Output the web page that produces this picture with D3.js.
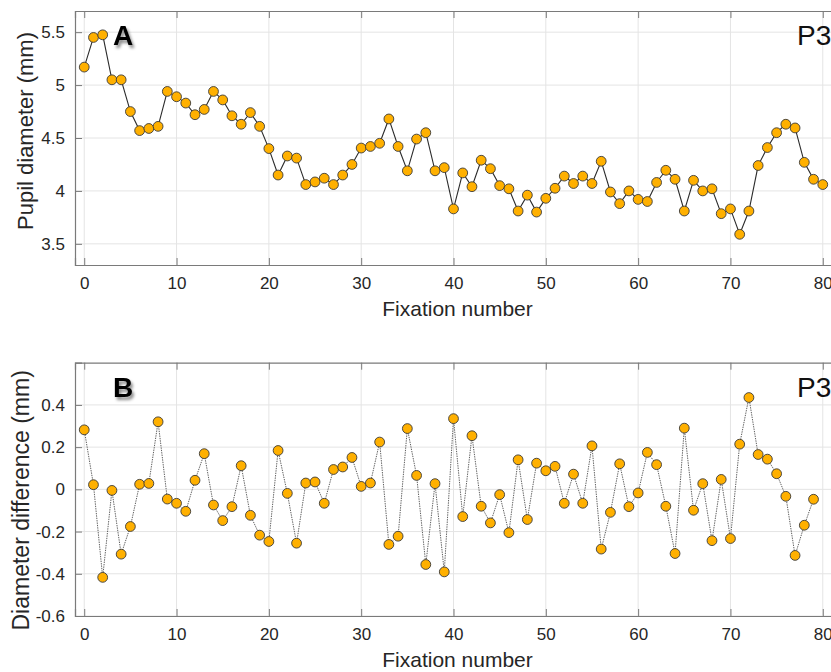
<!DOCTYPE html>
<html>
<head>
<meta charset="utf-8">
<script src="https://cdn.jsdelivr.net/npm/d3@7"></script>
<style>
  body { margin: 0; background: #fff; }
  svg { display: block; font-family: "Liberation Sans", Arial, Helvetica, sans-serif; }
</style>
</head>
<body>
<script>
// fixation numbers shared by both panels
const xTicks = [0, 10, 20, 30, 40, 50, 60, 70, 80];

// panel A: pupil diameter per fixation (mm)
const pupilDiameter = [
  5.17, 5.45, 5.475, 5.05, 5.05, 4.75, 4.57, 4.59, 4.61, 4.94,
  4.89, 4.83, 4.72, 4.77, 4.94, 4.86, 4.71, 4.63, 4.74, 4.61,
  4.40, 4.15, 4.33, 4.31, 4.06, 4.085, 4.12, 4.06, 4.15, 4.25,
  4.405, 4.42, 4.45, 4.68, 4.42, 4.19, 4.49, 4.55, 4.19, 4.22,
  3.83, 4.17, 4.04, 4.29, 4.21, 4.05, 4.02, 3.81, 3.96, 3.80,
  3.93, 4.025, 4.14, 4.07, 4.14, 4.07, 4.28, 3.99, 3.88, 4.00,
  3.92, 3.90, 4.08, 4.195, 4.11, 3.81, 4.10, 4.00, 4.02, 3.785,
  3.83, 3.59, 3.81, 4.24, 4.41, 4.55, 4.63, 4.595, 4.27, 4.11, 4.06
];
const pupilTicks = [3.5, 4, 4.5, 5, 5.5];

// panel B: difference between successive fixations (mm)
const diameterDiff = [
  0.282, 0.022, -0.417, -0.005, -0.307, -0.176, 0.024, 0.028, 0.320, -0.046,
  -0.066, -0.104, 0.043, 0.169, -0.074, -0.148, -0.082, 0.112, -0.123, -0.217,
  -0.247, 0.184, -0.019, -0.255, 0.030, 0.035, -0.066, 0.094, 0.106, 0.151,
  0.014, 0.030, 0.224, -0.261, -0.222, 0.288, 0.066, -0.356, 0.027, -0.391,
  0.335, -0.129, 0.254, -0.080, -0.159, -0.025, -0.205, 0.140, -0.143, 0.124,
  0.088, 0.109, -0.066, 0.072, -0.066, 0.206, -0.283, -0.109, 0.121, -0.082,
  -0.017, 0.175, 0.117, -0.080, -0.304, 0.290, -0.099, 0.027, -0.243, 0.047,
  -0.233, 0.214, 0.435, 0.165, 0.143, 0.074, -0.033, -0.313, -0.170, -0.047
];
const diffTicks = [-0.6, -0.4, -0.2, 0, 0.2, 0.4];

const width = 831, height = 672;
const left = 75, right = 832;

const svg = d3.select("body").append("svg")
    .attr("width", width)
    .attr("height", height);

// soft shadow behind the panel letters
svg.append("defs").append("filter")
    .attr("id", "shadow")
    .attr("x", "-50%").attr("y", "-50%")
    .attr("width", "200%").attr("height", "200%")
  .append("feDropShadow")
    .attr("dx", 2).attr("dy", 3)
    .attr("stdDeviation", 1.6)
    .attr("flood-color", "#000")
    .attr("flood-opacity", 0.45);

const x = d3.scaleLinear().domain([-1, 81]).range([left, right]);

// matlab writes a plain hyphen for negatives
const fmt = d => String(d);

function drawPanel(opts) {
    const y = d3.scaleLinear().domain(opts.yDomain).range([opts.bottom, opts.top]);
    const g = svg.append("g");

    // grid
    g.append("g")
        .attr("stroke", "#e4e4e4")
        .attr("stroke-width", 1)
        .call(s => s.selectAll(".gx").data(xTicks).join("line")
            .attr("x1", d => x(d)).attr("x2", d => x(d))
            .attr("y1", opts.top).attr("y2", opts.bottom))
        .call(s => s.selectAll(".gy").data(opts.yTicks).join("line")
            .attr("x1", left).attr("x2", right)
            .attr("y1", d => y(d)).attr("y2", d => y(d)));

    // axes: ticks point inward
    const axBottom = d3.axisBottom(x).tickValues(xTicks).tickSize(-7).tickPadding(12).tickFormat(fmt);
    const axTop = d3.axisTop(x).tickValues(xTicks).tickSize(-7).tickFormat("");
    const axLeft = d3.axisLeft(y).tickValues(opts.yTicks).tickSize(-7).tickPadding(10).tickFormat(fmt);

    const styleAxis = sel => {
        sel.select(".domain").attr("stroke", "#7a7a7a").attr("stroke-width", 1.2);
        sel.selectAll(".tick line").attr("stroke", "#7a7a7a").attr("stroke-width", 1);
        sel.selectAll(".tick text")
            .attr("fill", "#262626")
            .style("font-size", "17px")
            .style("font-family", "Liberation Sans, Arial, sans-serif");
    };

    g.append("g").attr("transform", `translate(0,${opts.bottom})`).call(axBottom).call(styleAxis);
    g.append("g").attr("transform", `translate(0,${opts.top})`).call(axTop).call(styleAxis);
    g.append("g").attr("transform", `translate(${left},0)`).call(axLeft).call(styleAxis);

    // axis labels
    g.append("text")
        .attr("x", (left + right) / 2 + 4)
        .attr("y", opts.bottom + 51)
        .attr("text-anchor", "middle")
        .attr("fill", "#262626")
        .style("font-size", "21px")
        .text("Fixation number");

    g.append("text")
        .attr("transform", `translate(${opts.labelX},${(opts.top + opts.bottom) / 2 + opts.labelShift}) rotate(-90)`)
        .attr("text-anchor", "middle")
        .attr("fill", "#262626")
        .style("font-size", opts.labelSize)
        .text(opts.yLabel);

    // data
    const line = d3.line().x((d, i) => x(i)).y(d => y(d));
    g.append("path")
        .datum(opts.values)
        .attr("fill", "none")
        .attr("stroke", opts.lineColor)
        .attr("stroke-width", opts.lineWidth)
        .attr("stroke-dasharray", opts.dash)
        .attr("d", line);

    g.append("g")
        .selectAll("circle")
        .data(opts.values)
        .join("circle")
        .attr("cx", (d, i) => x(i))
        .attr("cy", d => y(d))
        .attr("r", 4.9)
        .attr("fill", "#ffb000")
        .attr("stroke", "#3a3a3a")
        .attr("stroke-width", 0.9);

    // panel letter and subject id
    g.append("text")
        .attr("x", 113)
        .attr("y", opts.top + 34)
        .attr("font-weight", "bold")
        .attr("filter", "url(#shadow)")
        .style("font-size", "28px")
        .text(opts.letter);

    g.append("text")
        .attr("x", 797)
        .attr("y", opts.top + 34)
        .attr("fill", "#111")
        .style("font-size", "28px")
        .text("P3");
}

drawPanel({
    top: 11, bottom: 265,
    yDomain: [3.3, 5.7],
    yTicks: pupilTicks,
    values: pupilDiameter,
    yLabel: "Pupil diameter (mm)",
    labelSize: "22px",
    labelX: 33,
    labelShift: -7,
    letter: "A",
    lineColor: "#2b2b2b",
    lineWidth: 1.1,
    dash: null
});

drawPanel({
    top: 362.7, bottom: 616,
    yDomain: [-0.6, 0.6],
    yTicks: diffTicks,
    values: diameterDiff,
    yLabel: "Diameter difference (mm)",
    labelSize: "23px",
    labelX: 29,
    labelShift: 11,
    letter: "B",
    lineColor: "#606060",
    lineWidth: 1,
    dash: "1.4,1"
});
</script>
</body>
</html>
